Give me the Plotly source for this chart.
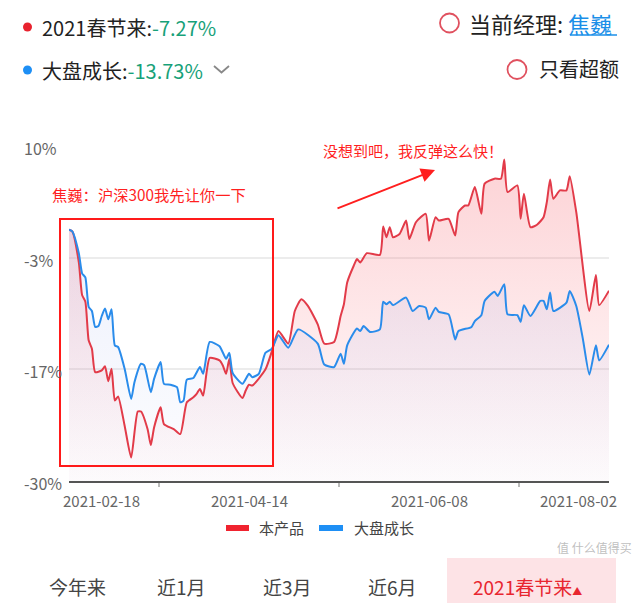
import plotly.graph_objects as go
import pandas as pd

# ---------------- data ----------------
START_DATE = "2021-02-18"
END_DATE = "2021-08-02"

# days since 2021-02-18 and cumulative return (%)
red_days = [0, 1, 3, 4, 5, 6, 7, 8, 10, 11, 12, 13, 14, 15, 17, 19, 21, 22, 24, 25,
            26, 28, 29, 32, 34, 36, 38, 39, 40, 41, 43, 46, 47, 48, 49, 50, 53, 54, 55, 56,
            60, 62, 64, 67, 69, 71, 73, 76, 78, 81, 83, 84, 85, 87, 88, 89, 91, 95, 96, 97,
            98, 99, 101, 103, 104, 106, 109, 110, 112, 113, 116, 118, 119, 121, 122, 124, 126, 127, 130, 132,
            133, 134, 137, 138, 139, 141, 143, 145, 146, 147, 148, 150, 152, 153, 155, 159, 161, 162, 165]
red_vals = [0, -0.2, -3.9, -7.8, -8.6, -13.2, -14.2, -17.0, -16.8, -16.3,
            -18.1, -16.6, -20.4, -19.9, -23.4, -27.2, -21.7, -21.7, -23.8, -25.7,
            -23.6, -21.2, -23.2, -23.8, -24.4, -20.6, -20.0, -19.6, -19.0, -19.8,
            -15.3, -15.6, -16.2, -17.2, -15.4, -18.3, -20.1, -19.2, -18.5, -18.6,
            -16.7, -14.5, -12.1, -13.6, -9.7, -8.3, -9.1, -11.3, -13.6, -13.4,
            -10.3, -8.9, -6.3, -4.3, -3.5, -3.9, -2.8, -3.0, 0.4, -0.9,
            0.3, -0.9, -0.5, 1.1, -1.1, 0.9, 1.9, -1.3, 1.5, 1.1,
            1.3, -0.7, 2.1, 2.9, 2.9, 5.1, 1.9, 5.5, 6.1, 6.1,
            8.4, 4.5, 5.3, 1.3, 4.3, 0.3, 0.6, 1.5, 3.3, 6.0,
            3.7, 4.7, 4.7, 6.4, 2.1, -9.7, -5.4, -9.0, -7.27]

blue_days = [0, 1, 3, 4, 5, 6, 7, 8, 9, 10, 11, 12, 13, 14, 15, 17, 19, 20, 22, 23,
             25, 26, 28, 29, 31, 33, 34, 35, 36, 38, 40, 41, 43, 46, 48, 49, 50, 53, 55, 56,
             58, 60, 62, 64, 67, 70, 76, 78, 81, 83, 84, 85, 88, 89, 90, 92, 95, 96, 97, 98,
             99, 103, 105, 107, 109, 110, 112, 113, 116, 118, 119, 123, 124, 126, 127, 130, 131, 133, 134, 137,
             138, 139, 141, 144, 145, 146, 147, 148, 152, 153, 155, 157, 159, 161, 162, 165]
blue_vals = [0, -0.2, -2.8, -5.2, -5.7, -9.2, -9.7, -11.6, -11.5, -10.3,
             -9.4, -10.7, -9.5, -13.8, -14.0, -16.6, -20.2, -18.2, -16.0, -16.2,
             -19.4, -17.8, -15.8, -18.4, -18.5, -18.8, -20.6, -20.4, -17.9, -17.7,
             -16.4, -17.2, -13.4, -13.9, -15.4, -14.7, -17.1, -18.4, -17.2, -17.6,
             -17.2, -14.7, -14.2, -12.6, -14.1, -11.9, -13.6, -16.1, -16.4, -14.8,
             -16.0, -13.8, -11.8, -12.1, -11.5, -12.2, -11.9, -8.6, -8.9, -8.6,
             -9.0, -8.1, -9.7, -9.1, -9.3, -10.7, -9.3, -9.8, -10.1, -13.1,
             -12.1, -11.6, -10.9, -10.2, -8.5, -7.4, -7.9, -6.5, -10.1, -10.2,
             -11.0, -9.0, -10.3, -8.5, -8.5, -9.5, -7.5, -9.7, -8.7, -7.3,
             -9.1, -13.0, -17.3, -13.8, -15.6, -13.73]

series_names = ["本产品", "大盘成长"]
red_return = "-7.27%"
blue_return = "-13.73%"

y_tick_vals = [10, -10 / 3, -50 / 3, -30]
y_tick_text = ["10%", "-3%", "-17%", "-30%"]
x_label_dates = ["2021-02-18", "2021-04-14", "2021-06-08", "2021-08-02"]
x_tick_marks = ["2021-03-17 12:00", "2021-05-11 12:00", "2021-07-05 12:00"]
period_tabs = ["今年来", "近1月", "近3月", "近6月"]
active_tab = "2021春节来"
watermark = "值 什么值得买"

# ---------------- layout helpers ----------------
W, H = 640, 603
ML, MR, MT, MB = 69, 31, 146, 122
PW, PH = W - ML - MR, H - MT - MB


def fx(px):
    return (px - ML) / PW


def fy(py):
    return (H - MB - py) / PH


FONT = "Noto Sans CJK SC"
RED = "#e23b49"
BLUE = "#2a8ceb"
ANN_RED = "#ff1f1f"

base = pd.Timestamp(START_DATE)
red_x = [base + pd.Timedelta(days=d) for d in red_days]
blue_x = [base + pd.Timedelta(days=d) for d in blue_days]

fig = go.Figure()
spline = dict(shape="spline", smoothing=0.55)

# red area (gradient) down to the -30% floor
fig.add_trace(go.Scatter(x=[red_x[0], red_x[-1]], y=[-30, -30], mode="lines",
                         line=dict(width=0), hoverinfo="skip", showlegend=False))
fig.add_trace(go.Scatter(x=red_x, y=red_vals, mode="lines", line=dict(width=0, **spline),
                         fill="tonexty",
                         fillgradient=dict(type="vertical", start=-30, stop=10,
                                           colorscale=[[0, "rgba(248,120,130,0.02)"],
                                                       [1, "rgba(248,110,120,0.32)"]]),
                         hoverinfo="skip", showlegend=False))
# blue area (gradient)
fig.add_trace(go.Scatter(x=[blue_x[0], blue_x[-1]], y=[-30, -30], mode="lines",
                         line=dict(width=0), hoverinfo="skip", showlegend=False))
fig.add_trace(go.Scatter(x=blue_x, y=blue_vals, mode="lines", line=dict(width=0, **spline),
                         fill="tonexty",
                         fillgradient=dict(type="vertical", start=-30, stop=10,
                                           colorscale=[[0, "rgba(140,160,235,0.02)"],
                                                       [1, "rgba(140,160,235,0.20)"]]),
                         hoverinfo="skip", showlegend=False))
# lines
fig.add_trace(go.Scatter(x=red_x, y=red_vals, mode="lines", name=series_names[0],
                         line=dict(color=RED, width=2, **spline), showlegend=False))
fig.add_trace(go.Scatter(x=blue_x, y=blue_vals, mode="lines", name=series_names[1],
                         line=dict(color=BLUE, width=2, **spline), showlegend=False))

ann = []
shapes = []


def text(px, py, t, size, color="#333", anchor="left", **kw):
    ann.append(dict(x=fx(px), y=fy(py), xref="paper", yref="paper", text=t,
                    showarrow=False, xanchor=anchor, yanchor="middle",
                    font=dict(family=FONT, size=size, color=color), **kw))


def circle(cx, cy, r, fill=None, line=None, lw=0):
    shapes.append(dict(type="circle", xref="paper", yref="paper",
                       x0=fx(cx - r), x1=fx(cx + r), y0=fy(cy + r), y1=fy(cy - r),
                       fillcolor=fill if fill else "rgba(0,0,0,0)",
                       line=dict(color=line if line else "rgba(0,0,0,0)", width=lw)))


def rect(x0, y0, x1, y1, fill=None, line=None, lw=0, layer="above"):
    shapes.append(dict(type="rect", xref="paper", yref="paper",
                       x0=fx(x0), x1=fx(x1), y0=fy(y1), y1=fy(y0), layer=layer,
                       fillcolor=fill if fill else "rgba(0,0,0,0)",
                       line=dict(color=line if line else "rgba(0,0,0,0)", width=lw)))


def path(points, color, lw):
    d = "M " + " L ".join(f"{fx(a):.5f},{fy(b):.5f}" for a, b in points)
    shapes.append(dict(type="path", xref="paper", yref="paper", path=d,
                       line=dict(color=color, width=lw)))


# header
circle(27.5, 27, 4.5, fill="#e8222e")
text(40, 27, f"2021春节来:<span style='color:#17a179'>{red_return}</span>", 20, "#222")
circle(27.5, 70, 4.5, fill="#1e8ff5")
text(40, 70, f"大盘成长:<span style='color:#17a179'>{blue_return}</span>", 20, "#222")
path([(214, 66), (221.5, 72.5), (229, 66)], "#888", 1.8)

circle(449.5, 23, 9.5, line="#e0515f", lw=1.8)
text(467, 23, "当前经理: <span style='color:#1b8fe8'>焦巍</span>", 22, "#222")
path([(570, 35), (617, 35)], "#1b8fe8", 1.5)
circle(517, 69.5, 9.5, line="#e0515f", lw=1.8)
text(537, 68.5, "只看超额", 20, "#222")

# y tick labels (left aligned)
for v, t in zip(y_tick_vals, y_tick_text):
    ann.append(dict(x=fx(22), xref="paper", y=v, yref="y", text=t, showarrow=False,
                    xanchor="left", yanchor="middle", yshift=-2,
                    font=dict(family=FONT, size=16, color="#666")))
# x labels
shifts = [32, 0, 0, -31]
for d, s in zip(x_label_dates, shifts):
    ann.append(dict(x=d, xref="x", y=fy(500.5), yref="paper", text=d, showarrow=False,
                    xanchor="center", yanchor="middle", xshift=s,
                    font=dict(family=FONT, size=15, color="#666")))

# manual legend
rect(226, 525, 249, 531, fill="#f0232f")
text(257, 527.5, series_names[0], 15, "#444")
rect(319, 525, 343, 531, fill="#1e8ff5")
text(352, 527.5, series_names[1], 15, "#444")

# in-chart notes
text(50, 194, "焦巍：沪深300我先让你一下", 15.3, ANN_RED)
text(321, 150, "没想到吧，我反弹这么快！", 15, ANN_RED)
rect(60, 219, 273, 466, line="#ff1a1a", lw=2)
ann.append(dict(x=fx(435), y=fy(170), xref="paper", yref="paper", text="",
                showarrow=True, ax=-99, ay=39, arrowhead=2, arrowsize=1.4,
                arrowwidth=2, arrowcolor=ANN_RED, standoff=0))

# bottom tabs
for t, cx in zip(period_tabs, [77.6, 181.6, 287.5, 392.5]):
    text(cx, 586.5, t, 19, "#444", anchor="center")
rect(447, 558, 616, 604, fill="#fde3e6", layer="below")
text(471, 586.5, f"{active_tab}<span style='font-size:10px'>▲</span>", 19, "#e8262f")
# watermark, moved into the free strip above the tabs so it does not cover text
text(634, 547, watermark, 12, "rgba(170,170,170,0.75)", anchor="right")

fig.update_layout(
    width=W, height=H, autosize=False,
    margin=dict(l=ML, r=MR, t=MT, b=MB, pad=0),
    paper_bgcolor="white", plot_bgcolor="white",
    showlegend=False,
    font=dict(family=FONT),
    annotations=ann, shapes=shapes,
    xaxis=dict(type="date", range=[START_DATE, END_DATE], showgrid=False,
               showline=True, linecolor="#555", linewidth=2,
               tickvals=x_tick_marks, ticks="outside", ticklen=4, tickwidth=1.5,
               tickcolor="#bbb", showticklabels=False, zeroline=False, fixedrange=True),
    yaxis=dict(range=[-30, 10], tickvals=y_tick_vals, showticklabels=False,
               showgrid=True, gridcolor="#ececec", gridwidth=1.5, zeroline=False,
               ticks="", fixedrange=True),
)

fig.write_html("out.html")
